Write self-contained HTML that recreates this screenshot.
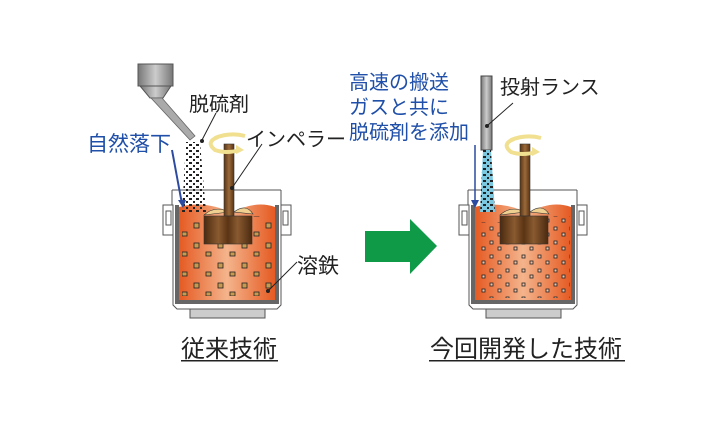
<!DOCTYPE html>
<html><head><meta charset="utf-8"><style>
html,body{margin:0;padding:0;background:#fff;width:708px;height:436px;overflow:hidden}
svg{display:block}
text{font-family:"Liberation Sans","Noto Sans CJK JP",sans-serif}
</style></head><body>
<svg width="708" height="436" viewBox="0 0 708 436" xmlns="http://www.w3.org/2000/svg">
<defs>
<linearGradient id="melt" x1="0" x2="1" y1="0" y2="0">
<stop offset="0" stop-color="#e55a22"/><stop offset="0.5" stop-color="#f4b48c"/><stop offset="1" stop-color="#e55a22"/>
</linearGradient>
<linearGradient id="shaft" x1="0" x2="1"><stop offset="0" stop-color="#5a3414"/><stop offset="0.5" stop-color="#9a6a3a"/><stop offset="1" stop-color="#5a3414"/></linearGradient>
<linearGradient id="blk" x1="0" x2="1"><stop offset="0" stop-color="#4a2a10"/><stop offset="0.3" stop-color="#8a5a30"/><stop offset="0.5" stop-color="#5a3414"/><stop offset="0.7" stop-color="#8a5a30"/><stop offset="1" stop-color="#4a2a10"/></linearGradient>
<linearGradient id="hop" x1="0" x2="1"><stop offset="0" stop-color="#777"/><stop offset="0.5" stop-color="#ccc"/><stop offset="1" stop-color="#777"/></linearGradient>
<pattern id="pb" width="24" height="20" patternUnits="userSpaceOnUse">
<rect x="2" y="3" width="5" height="5" fill="#c89a50" stroke="#222" stroke-width="0.8"/>
<rect x="14" y="12" width="5" height="4" fill="#c89a50" stroke="#222" stroke-width="0.8"/>
</pattern>
<pattern id="pb2" width="16" height="14" patternUnits="userSpaceOnUse">
<rect x="2" y="3" width="3" height="3" fill="#f6c0a0" stroke="#222" stroke-width="0.8"/>
<rect x="10" y="9" width="3" height="3" fill="#f6c0a0" stroke="#222" stroke-width="0.8"/>
</pattern>
<pattern id="pd" width="7" height="6" patternUnits="userSpaceOnUse">
<rect x="0" y="0" width="3" height="2" fill="#222"/><rect x="4" y="3" width="2" height="2" fill="#222"/>
</pattern>
<g id="ladle">
<path d="M172 190 L281 190 M172 190 L172 205 M281 190 L281 205" stroke="#555" stroke-width="1" fill="none"/>
<path d="M173 205 L173 305 L177 309 L277 309 L281 305 L281 205" fill="#fff" stroke="#555" stroke-width="1"/>
<path d="M177 205 L177 302 L277 302 L277 205" fill="none" stroke="#666" stroke-width="4"/>
<rect x="190" y="309" width="75" height="9" fill="#ccc" stroke="#555"/>
<rect x="163" y="205" width="10" height="30" fill="#fff" stroke="#555"/>
<rect x="281" y="205" width="10" height="30" fill="#fff" stroke="#555"/>
<rect x="166" y="211" width="5" height="14" fill="#fff" stroke="#555"/>
<rect x="283" y="211" width="5" height="14" fill="#fff" stroke="#555"/>
<path d="M179 207 Q205 200 232 213 Q255 200 275 207 L275 300 L179 300 Z" fill="url(#melt)"/>
<path d="M204 215 Q215 205 229 212 Z M234 212 Q246 203 253 214 Z" fill="#f0d090" stroke="#333" stroke-width="0.6"/>
</g>
</defs>

<!-- LEFT -->
<use href="#ladle"/>
<rect x="182" y="244" width="92" height="52" fill="url(#pb)"/>
<rect x="252" y="216" width="22" height="28" fill="url(#pb)"/>
<rect x="182" y="222" width="22" height="22" fill="url(#pb)"/>
<rect x="138" y="64" width="35" height="22" fill="url(#hop)" stroke="#555"/>
<path d="M140 86 L171 86 L163 98 L150 98 Z" fill="url(#hop)" stroke="#555"/>
<path d="M151 98 L162 98 L195 136 L190 140 Z" fill="#aaa" stroke="#666" stroke-width="0.8"/>
<path d="M186 142 L200 142 L206 212 L182 212 Z" fill="url(#pd)"/>
<rect x="224" y="144" width="10" height="72" fill="url(#shaft)" stroke="#333" stroke-width="0.6"/>
<rect x="204" y="216" width="48" height="28" fill="url(#blk)" stroke="#333" stroke-width="0.6"/>
<path d="M218 137 Q205 142 215 150 Q226 154 240 150" fill="none" stroke="#f0e090" stroke-width="4"/>
<path d="M215 138 Q230 132 245 136" fill="none" stroke="#f0e090" stroke-width="4"/>
<path d="M236 145 L244 150 L236 154 Z" fill="#f0e090"/>
<path d="M216 113 L202 140" stroke="#222" stroke-width="1"/><circle cx="202" cy="141" r="2" fill="#222"/>
<path d="M262 144 L232 188" stroke="#222" stroke-width="1"/><circle cx="232" cy="188" r="2" fill="#222"/>
<path d="M297 262 L268 291" stroke="#222" stroke-width="1"/><circle cx="268" cy="291" r="2" fill="#222"/>
<path d="M172 150 L182 204" stroke="#2c4aa0" stroke-width="2"/><path d="M178 200 L186 200 L183 208 Z" fill="#2c4aa0"/>
<text x="189" y="111" font-size="20" fill="#222">脱硫剤</text>
<text x="87" y="151" font-size="21" fill="#1f4fa8">自然落下</text>
<text x="246" y="146" font-size="20" fill="#222">インペラー</text>
<text x="297" y="273" font-size="21" fill="#222">溶鉄</text>
<text x="181" y="357" font-size="24" fill="#222">従来技術</text>
<rect x="181" y="360" width="97" height="1.5" fill="#222"/>

<path d="M365 231 L410 231 L410 219 L437 246 L410 274 L410 262 L365 262 Z" fill="#0f9a48"/>

<!-- RIGHT -->
<g transform="translate(296,0)"><use href="#ladle"/>
<rect x="182" y="244" width="92" height="54" fill="url(#pb2)"/>
<rect x="252" y="216" width="22" height="28" fill="url(#pb2)"/>
<rect x="182" y="222" width="22" height="22" fill="url(#pb2)"/>
<rect x="224" y="144" width="10" height="72" fill="url(#shaft)" stroke="#333" stroke-width="0.6"/>
<rect x="204" y="216" width="48" height="28" fill="url(#blk)" stroke="#333" stroke-width="0.6"/>
<path d="M218 139 Q205 144 215 152 Q226 156 240 152" fill="none" stroke="#f0e090" stroke-width="4"/>
<path d="M215 140 Q230 134 245 138" fill="none" stroke="#f0e090" stroke-width="4"/>
<path d="M236 147 L244 152 L236 156 Z" fill="#f0e090"/>
</g>
<rect x="481" y="76" width="11" height="74" fill="url(#hop)" stroke="#444"/>
<path d="M483 150 L491 150 L495 212 L480 212 Z" fill="#7cc8e0"/>
<path d="M483 150 L491 150 L495 212 L480 212 Z" fill="url(#pd)"/>
<path d="M513 103 L488 125" stroke="#222" stroke-width="1"/><circle cx="487" cy="126" r="2" fill="#222"/>
<path d="M475 145 L475 205" stroke="#2c4aa0" stroke-width="1.5"/><path d="M471 200 L479 200 L475 208 Z" fill="#2c4aa0"/>
<text x="349" y="89" font-size="20" fill="#1f4fa8">高速の搬送</text>
<text x="349" y="114" font-size="20" fill="#1f4fa8">ガスと共に</text>
<text x="349" y="139" font-size="20" fill="#1f4fa8">脱硫剤を添加</text>
<text x="500" y="94" font-size="20" fill="#222">投射ランス</text>
<text x="430" y="357" font-size="24" fill="#222">今回開発した技術</text>
<rect x="429" y="360" width="196" height="1.5" fill="#222"/>
</svg>
</body></html>
